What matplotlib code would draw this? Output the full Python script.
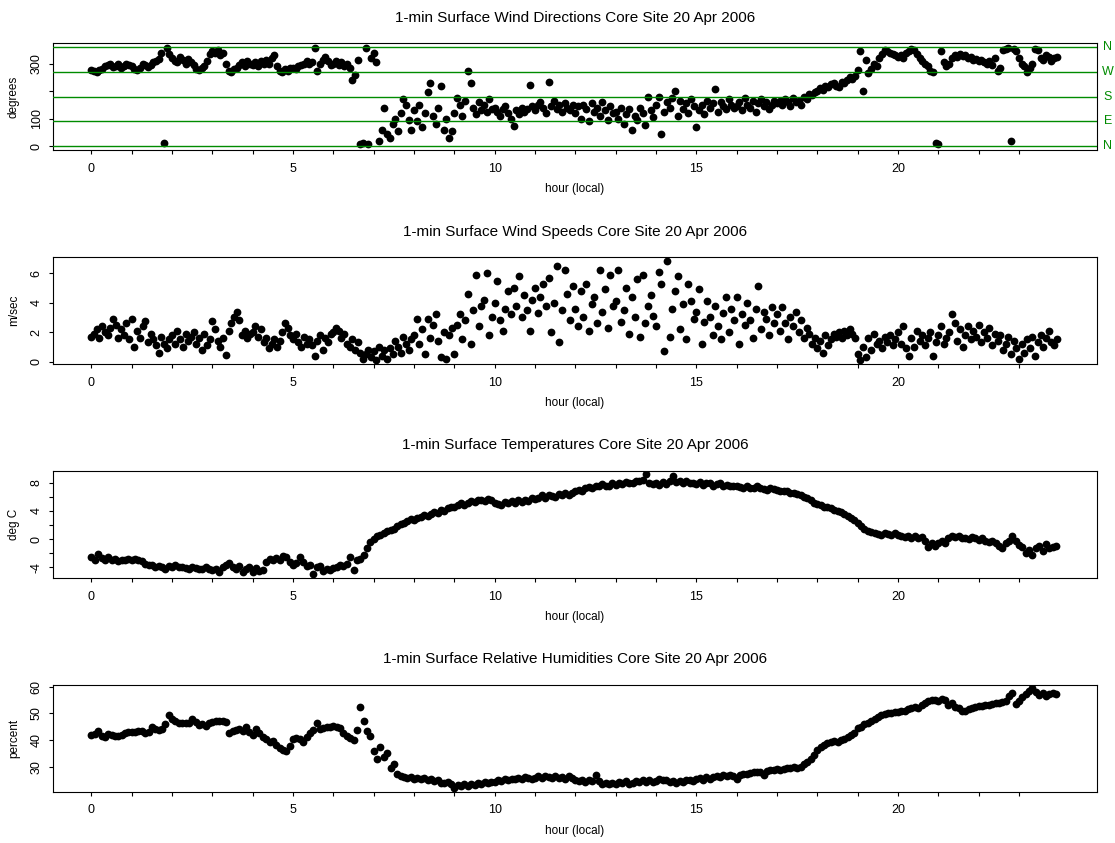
import numpy as np
import matplotlib.pyplot as plt

plt.rcParams['font.family'] = ['Liberation Sans', 'DejaVu Sans']

# wind direction (deg), one sample every 4 min, one row per hour
wdir = [
    276, 272, 270, 278, 282, 290, 295, 300, 288, 292, 298, 285, 290, 300, 295,
    290, 282, 278, 285, 300, 295, 288, 296, 305, 310, 318, 340, 10, 358, 335,
    320, 310, 305, 325, 315, 300, 318, 305, 295, 280, 276, 285, 290, 310, 335,
    345, 338, 350, 330, 340, 300, 275, 268, 280, 285, 295, 305, 290, 310, 300,
    295, 305, 290, 310, 300, 315, 298, 320, 333, 290, 275, 268, 280, 272, 285,
    285, 280, 290, 295, 300, 310, 300, 305, 358, 275, 300, 315, 325, 310, 295,
    300, 310, 295, 305, 290, 300, 285, 240, 260, 315, 8, 10, 357, 9, 320,
    340, 305, 20, 60, 140, 45, 30, 80, 100, 55, 120, 170, 150, 95, 60,
    130, 90, 150, 70, 120, 195, 230, 110, 80, 140, 218, 60, 100, 30, 55,
    120, 175, 150, 110, 165, 272, 230, 140, 115, 160, 130, 150, 125, 170, 135,
    140, 125, 110, 135, 145, 120, 100, 72, 130, 115, 140, 125, 135, 224, 145,
    130, 150, 160, 140, 120, 234, 145, 165, 135, 150, 125, 155, 140, 130, 150,
    120, 145, 100, 150, 135, 90, 155, 125, 140, 110, 160, 130, 95, 145, 120,
    125, 100, 140, 80, 115, 135, 60, 110, 95, 140, 120, 75, 180, 130, 105,
    150, 180, 45, 125, 160, 140, 175, 202, 110, 165, 135, 155, 120, 170, 145,
    70, 130, 150, 115, 165, 140, 155, 206, 125, 160, 145, 135, 170, 150, 140,
    145, 160, 130, 175, 150, 140, 165, 125, 155, 170, 145, 160, 135, 150, 165,
    155, 165, 150, 170, 160, 145, 175, 160, 165, 150, 180, 170, 190, 185, 195,
    200, 210, 205, 220, 215, 225, 230, 220, 215, 235, 230, 240, 250, 245, 255,
    278, 345, 202, 315, 265, 280, 300, 290, 320, 335, 350, 345, 340, 335, 330,
    325, 330, 320, 340, 345, 355, 350, 335, 320, 310, 300, 290, 275, 268, 10,
    8, 345, 305, 290, 300, 320, 330, 325, 335, 328, 330, 320, 325, 315, 318,
    310, 315, 305, 300, 310, 295, 320, 272, 285, 350, 355, 358, 18, 352, 345,
    320, 300, 290, 270, 285, 300, 355, 350, 320, 315, 330, 325, 310, 320, 325,
]

# wind speed (m/s), every 4 min
wspd = [
    1.7, 1.9, 2.2, 1.6, 2.4, 2.0, 1.8, 2.3, 2.9, 2.5, 1.6, 2.2, 1.8, 2.6, 1.5,
    2.9, 1.0, 2.1, 1.6, 2.4, 2.75, 1.3, 1.9, 1.5, 1.1, 0.6, 1.7, 1.2, 0.9, 1.5,
    1.8, 1.2, 2.1, 1.5, 1.0, 1.9, 1.4, 1.7, 2.0, 1.2, 1.6, 0.8, 1.9, 1.1, 1.5,
    2.75, 2.2, 1.4, 1.0, 1.6, 0.45, 2.1, 2.6, 3.0, 3.35, 2.8, 1.8, 2.1, 1.6, 1.9,
    2.0, 2.4, 1.7, 2.2, 1.3, 1.6, 0.9, 1.2, 1.5, 1.0, 1.4, 2.0, 2.6, 2.3, 1.8,
    1.5, 1.9, 1.3, 1.0, 1.7, 1.2, 1.5, 1.1, 0.35, 1.4, 1.8, 0.8, 1.6, 1.3, 1.9,
    2.0, 2.3, 2.1, 1.6, 1.9, 1.2, 1.0, 1.5, 0.8, 1.3, 0.6, 0.2, 0.5, 0.8, 0.3,
    0.7, 0.1, 1.0, 0.4, 0.8, 0.2, 0.9, 0.5, 1.4, 1.0, 0.6, 1.7, 1.2, 0.8, 1.5,
    1.8, 2.9, 1.2, 2.2, 0.5, 2.9, 1.6, 2.5, 3.2, 1.4, 0.3, 2.0, 0.2, 1.8, 2.3,
    0.5, 2.5, 3.2, 1.5, 2.8, 4.6, 1.2, 3.5, 5.9, 2.4, 3.8, 4.2, 6.0, 1.8, 3.0,
    4.0, 5.5, 2.8, 2.1, 3.6, 4.8, 3.2, 5.0, 3.8, 5.8, 3.0, 4.5, 3.5, 2.1, 4.2,
    5.0, 3.3, 4.4, 5.3, 3.8, 5.7, 2.0, 4.0, 6.5, 1.35, 3.5, 6.2, 4.6, 2.8, 5.1,
    3.6, 2.4, 4.8, 3.0, 5.3, 2.1, 3.9, 4.4, 2.6, 6.2, 3.4, 4.9, 2.3, 5.9, 3.8,
    4.1, 6.2, 2.7, 3.5, 5.0, 1.9, 4.4, 3.0, 5.6, 1.7, 5.9, 2.6, 3.8, 4.5, 3.1,
    2.4, 6.1, 5.3, 0.7, 6.85, 1.7, 3.6, 4.8, 5.8, 2.2, 3.9, 1.5, 5.3, 4.1, 2.9,
    3.4, 4.9, 1.2, 2.7, 4.1, 3.0, 1.8, 3.8, 2.4, 1.5, 3.3, 4.4, 2.0, 3.6, 2.8,
    4.4, 1.2, 3.2, 2.5, 4.0, 2.8, 1.6, 3.6, 5.1, 2.2, 3.4, 2.9, 1.8, 3.7, 2.6,
    3.2, 2.1, 3.7, 2.6, 1.5, 3.0, 2.4, 3.4, 2.0, 2.8, 1.6, 2.3, 1.9, 1.2, 1.6,
    0.9, 1.4, 0.6, 1.8, 1.1, 1.5, 1.9, 1.7, 2.0, 1.6, 2.1, 1.8, 2.2, 1.9, 1.6,
    0.5, 0.1, 1.0, 0.3, 1.6, 0.8, 1.9, 1.2, 1.4, 0.9, 1.7, 1.3, 1.8, 1.1, 1.5,
    2.0, 1.2, 2.4, 0.9, 0.35, 1.6, 1.0, 2.1, 1.4, 1.8, 1.1, 1.6, 2.0, 0.35, 1.3,
    1.8, 2.4, 1.2, 1.6, 2.0, 3.2, 2.6, 1.4, 2.2, 1.0, 1.8, 2.4, 1.5, 2.1, 1.7,
    2.5, 1.3, 2.0, 1.6, 2.3, 1.1, 1.9, 1.4, 1.8, 0.8, 1.2, 1.7, 0.5, 1.4, 0.9,
    0.2, 1.2, 0.6, 1.5, 0.9, 1.7, 0.4, 1.3, 1.8, 1.0, 1.6, 2.1, 1.3, 1.1, 1.5,
]

# air temperature (deg C), every 5 min
temp = [
    -2.6, -3.0, -2.1, -2.7, -2.9, -2.6, -3.0, -2.8, -3.1, -2.9, -3.0, -2.8,
    -2.9, -2.8, -3.0, -3.1, -3.5, -3.7, -3.6, -3.9, -3.8, -4.0, -4.2, -3.8,
    -3.9, -3.7, -4.0, -3.9, -4.1, -4.2, -4.0, -4.1, -4.3, -4.2, -4.0, -4.3,
    -4.4, -4.2, -4.6, -4.0, -3.7, -3.4, -3.9, -4.3, -3.8, -4.7, -4.2, -3.9,
    -4.6, -4.1, -4.5, -4.4, -3.2, -2.8, -2.9, -2.7, -2.9, -2.4, -2.6, -3.3,
    -3.6, -3.4, -2.5, -3.2, -3.8, -3.6, -4.9, -4.0, -3.8, -4.5, -4.3, -4.4,
    -4.1, -3.9, -3.7, -3.8, -3.5, -2.5, -4.4, -3.0, -2.8, -2.2, -1.2, -0.4,
    0.0, 0.4, 0.6, 0.9, 1.1, 1.3, 1.5, 1.9, 2.2, 2.3, 2.6, 2.8,
    2.7, 3.0, 3.2, 3.4, 3.3, 3.6, 3.8, 3.7, 4.1, 4.0, 4.4, 4.5,
    4.6, 4.9, 5.1, 4.8, 5.2, 5.4, 5.3, 5.5, 5.6, 5.4, 5.7, 5.5,
    5.2, 5.0, 4.9, 5.3, 5.1, 5.4, 5.2, 5.6, 5.3, 5.5, 5.4, 5.8,
    5.7, 5.9, 6.2, 5.9, 6.3, 6.1, 6.0, 6.4, 6.2, 6.5, 6.3, 6.6,
    6.8, 7.0, 6.9, 7.3, 7.4, 7.2, 7.6, 7.5, 7.8, 7.6, 7.5, 7.9,
    7.7, 8.0, 7.8, 8.1, 8.0, 7.9, 8.3, 8.2, 8.4, 9.2, 8.0, 7.8,
    7.9, 7.7, 8.1, 7.8, 8.2, 9.0, 8.1, 8.3, 8.0, 8.2, 7.9, 8.0,
    7.8, 8.1, 7.7, 7.9, 8.0, 7.6, 7.8, 7.9, 7.6, 7.7, 7.5, 7.6,
    7.6, 7.4, 7.3, 7.5, 7.3, 7.2, 7.6, 7.2, 7.1, 7.0, 7.2, 7.1,
    7.0, 6.9, 6.8, 6.8, 6.6, 6.5, 6.4, 6.2, 6.0, 5.8, 5.5, 5.2,
    5.0, 4.8, 4.6, 4.5, 4.4, 4.2, 4.0, 3.8, 3.6, 3.3, 3.0, 2.7,
    2.3, 1.9, 1.5, 1.2, 1.0, 0.9, 0.8, 0.6, 0.9, 0.7, 0.6, 0.9,
    0.6, 0.5, 0.3, 0.5, 0.2, 0.4, 0.1, 0.3, -0.3, -1.1, -0.6, -1.0,
    -0.5, -0.2, -0.6, 0.2, 0.5, 0.3, 0.4, 0.1, 0.2, 0.0, 0.3, 0.1,
    -0.1, 0.1, -0.2, -0.4, -0.3, -0.6, -0.9, -1.3, -0.6, -0.2, 0.5, -0.3,
    -0.8, -1.1, -1.9, -1.6, -2.2, -1.3, -0.9, -1.7, -0.7, -1.3, -1.1, -1.0,
]

# relative humidity (%), every 5 min
rh = [
    42.0, 42.1, 43.3, 41.5, 41.2, 42.2, 42.0, 41.6, 41.3, 41.7, 42.5, 42.8,
    43.0, 42.8, 43.2, 43.5, 42.4, 43.0, 45.0, 44.0, 43.8, 44.2, 45.8, 49.3,
    47.8, 47.0, 46.5, 46.4, 46.3, 46.5, 48.0, 46.6, 45.5, 46.0, 45.2, 46.5,
    46.8, 47.2, 46.9, 47.0, 46.6, 42.4, 43.2, 43.8, 44.1, 43.5, 45.0, 43.0,
    42.0, 44.0, 42.4, 41.0, 40.2, 39.3, 39.5, 38.2, 37.0, 36.2, 36.0, 37.8,
    40.4, 40.6, 40.5, 39.2, 41.0, 42.5, 43.6, 46.4, 44.0, 44.6, 45.0, 44.8,
    45.2, 44.8, 44.5, 42.4, 41.5, 40.6, 40.0, 43.6, 52.2, 47.0, 43.2, 41.5,
    36.0, 33.0, 37.2, 33.5, 35.0, 29.5, 31.0, 27.2, 26.5, 26.0, 25.8, 26.2,
    25.5, 25.8, 25.2, 25.6, 25.0, 25.3, 24.5, 24.8, 24.0, 23.8, 24.4, 23.6,
    21.8, 23.0, 22.6, 23.4, 22.8, 23.6, 23.2, 24.0, 23.4, 24.1, 23.7, 24.2,
    24.4, 25.0, 24.6, 25.3, 24.8, 25.5, 25.2, 25.8, 25.4, 26.0, 25.6, 25.2,
    25.8, 26.4, 25.9, 26.6, 26.2, 25.7, 26.5, 25.8, 26.0, 25.4, 26.3, 25.6,
    25.0, 24.6, 24.9, 24.2, 25.0, 24.5, 26.8, 24.6, 23.5, 24.0, 23.4, 23.9,
    23.6, 24.2, 23.8, 24.5, 23.4, 24.0, 24.6, 24.1, 25.0, 24.4, 24.8, 24.2,
    24.5, 25.2, 24.8, 25.0, 24.3, 24.6, 24.0, 24.5, 24.2, 24.8, 25.0, 24.6,
    25.2, 25.6, 25.0, 26.0, 25.5, 26.2, 26.5, 26.0, 26.8, 26.4, 27.0, 26.6,
    25.2, 27.0, 27.4, 27.2, 27.6, 27.8, 28.0, 27.8, 27.0, 28.4, 28.6, 28.9,
    29.0, 28.8, 29.2, 29.4, 29.6, 29.8, 29.6, 30.0, 31.0, 31.8, 33.0, 34.5,
    36.2, 37.5, 38.2, 38.7, 39.2, 39.5, 39.4, 39.8, 40.5, 41.2, 42.0, 42.6,
    44.4, 45.0, 45.8, 46.2, 47.0, 47.8, 48.5, 49.4, 49.8, 50.2, 50.0, 50.4,
    50.6, 51.0, 50.8, 51.5, 51.8, 52.3, 52.0, 53.0, 53.8, 54.5, 54.8, 55.0,
    54.6, 55.2, 54.8, 53.0, 53.8, 52.5, 51.8, 51.0, 50.8, 51.4, 52.0, 52.2,
    52.6, 52.8, 53.2, 53.0, 53.6, 54.0, 53.8, 54.2, 54.4, 56.5, 57.5, 53.3,
    54.5, 56.0, 57.2, 58.2, 59.4, 58.0, 57.0, 57.4, 56.6, 57.2, 57.4, 57.3,
]

titles = [
    "1-min Surface Wind Directions Core Site 20 Apr 2006",
    "1-min Surface Wind Speeds Core Site 20 Apr 2006",
    "1-min Surface Temperatures Core Site 20 Apr 2006",
    "1-min Surface Relative Humidities Core Site 20 Apr 2006",
]
ylabels = ["degrees", "m/sec", "deg C", "percent"]
compass_deg = [0, 90, 180, 270, 360]
compass_lab = ["N", "E", "S", "W", "N"]

hr_wind = np.arange(len(wdir)) * 4 / 60.0
hr_met = np.arange(len(temp)) * 5 / 60.0

series = [
    (hr_wind, wdir, (-14.4, 374.4), [0, 100, 200, 300], ["0", "100", "", "300"]),
    (hr_wind, wspd, (-0.16, 7.09), [0, 2, 4, 6], ["0", "2", "4", "6"]),
    (hr_met, temp, (-5.48, 9.66), [-4, -2, 0, 2, 4, 6, 8],
     ["-4", "", "0", "", "4", "", "8"]),
    (hr_met, rh, (20.6, 60.6), [30, 40, 50, 60], ["30", "40", "50", "60"]),
]

# day of 1-min records, padded 4% each side
day_end = 1439 / 60.0
xpad = 0.04 * day_end
xticks = list(range(24))
xticklabels = [str(h) if h % 5 == 0 else "" for h in xticks]

green = "#008B00"
fig = plt.figure(figsize=(11.15, 8.43), dpi=100)

left, width, height = 0.0473, 0.9369, 0.1266
bottoms = [0.8221, 0.5683, 0.3146, 0.0609]

for i, (hrs, vals, ylim, yt, ytl) in enumerate(series):
    ax = fig.add_axes([left, bottoms[i], width, height])
    ax.plot(hrs, vals, "o", ms=5.6, color="black", mew=0, zorder=2)
    ax.set_xlim(-xpad, day_end + xpad)
    ax.set_ylim(*ylim)

    ax.set_xticks(xticks)
    ax.set_xticklabels(xticklabels)
    ax.set_yticks(yt)
    ax.set_yticklabels(ytl, rotation=90, va="center")
    ax.tick_params(direction="out", length=3.2, width=0.8, labelsize=9,
                   colors="black")
    ax.tick_params(axis="x", pad=6)
    ax.tick_params(axis="y", pad=4)
    for sp in ax.spines.values():
        sp.set_linewidth(0.8)
        sp.set_color("black")

    ax.annotate(titles[i], xy=(0.5, 1), xycoords="axes fraction",
                xytext=(0, 18.5), textcoords="offset points",
                ha="center", va="center", fontsize=11)
    ax.annotate("hour (local)", xy=(0.5, 0), xycoords="axes fraction",
                xytext=(0, -28), textcoords="offset points",
                ha="center", va="center", fontsize=8.5)
    ax.annotate(ylabels[i], xy=(0, 0.5), xycoords="axes fraction",
                xytext=(-28, 0), textcoords="offset points",
                ha="center", va="center", rotation=90, fontsize=8.5)

    if i == 0:
        # compass reference lines
        for d, lab in zip(compass_deg, compass_lab):
            ax.axhline(d, color=green, lw=1.0, zorder=3)
            ax.text(1.0101, d, lab, transform=ax.get_yaxis_transform(),
                    ha="center", va="center", color=green, fontsize=9)

fig.savefig("out.png", dpi=100)
